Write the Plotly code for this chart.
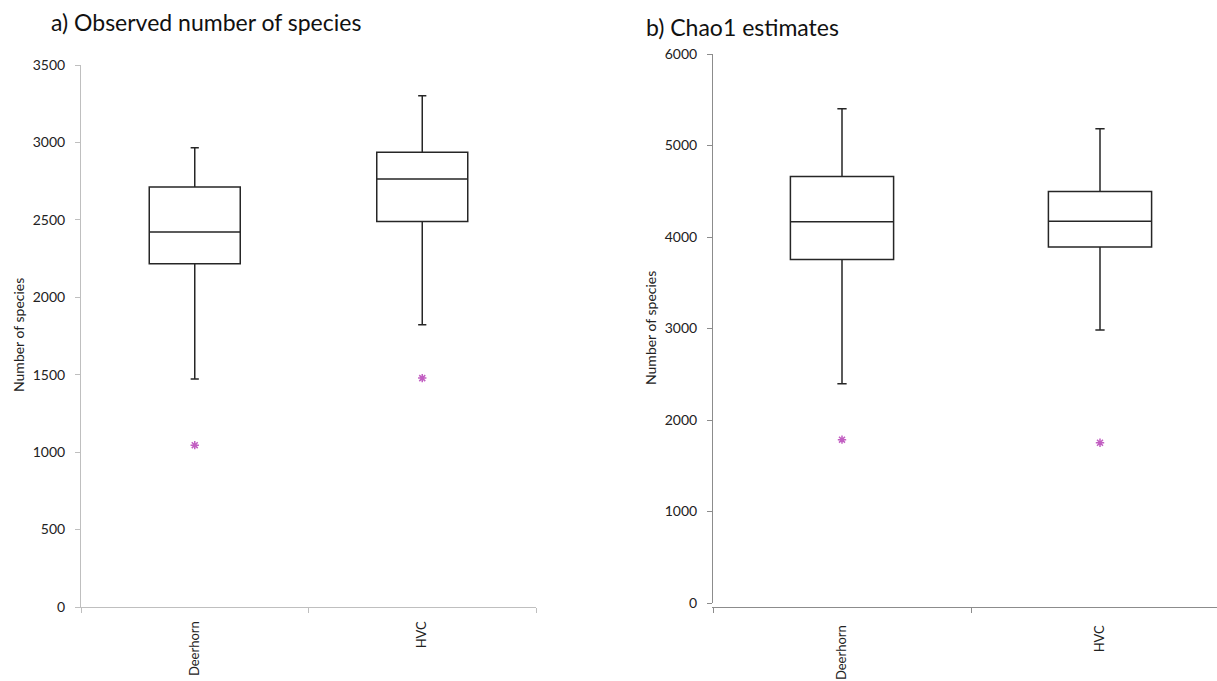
import plotly.graph_objects as go

sites = ["Deerhorn", "HVC"]

# a) Observed number of species
obs_lower = [1472, 1822]
obs_q1 = [2216, 2490]
obs_median = [2421, 2764]
obs_q3 = [2712, 2936]
obs_upper = [2966, 3302]
obs_outlier = [1045, 1478]

# b) Chao1 estimates
chao_lower = [2397, 2984]
chao_q1 = [3755, 3891]
chao_median = [4167, 4171]
chao_q3 = [4662, 4498]
chao_upper = [5402, 5184]
chao_outlier = [1785, 1752]

W, H = 1217, 681
FONT = "Lato"
BOX_LINE = "#262626"
OUT_COL = "#c25fc2"

pos = list(range(len(sites)))

fig = go.Figure()

def add_panel(xa, ya, lower, q1, med, q3, upper, outl):
    fig.add_trace(go.Box(
        x=pos, q1=q1, median=med, q3=q3, lowerfence=lower, upperfence=upper,
        xaxis=xa, yaxis=ya, width=0.4, whiskerwidth=0.09,
        fillcolor="white", line=dict(color=BOX_LINE, width=1.5),
        boxpoints=False, showlegend=False, hoverinfo="skip"))
    fig.add_trace(go.Scatter(
        x=pos, y=outl, xaxis=xa, yaxis=ya, mode="markers",
        marker=dict(symbol="asterisk", size=7, color=OUT_COL,
                    line=dict(color=OUT_COL, width=1.5)),
        showlegend=False, hoverinfo="skip"))

add_panel("x", "y", obs_lower, obs_q1, obs_median, obs_q3, obs_upper, obs_outlier)
add_panel("x2", "y2", chao_lower, chao_q1, chao_median, chao_q3, chao_upper, chao_outlier)

def px_x(v):
    return v / W

def px_y(v):
    return 1 - v / H

tickfont = dict(family=FONT, size=14, color="#222222")
xtickfont = dict(family=FONT, size=13, color="#222222")

def xaxis(domain, rng, lc, standoff):
    return dict(domain=domain, range=rng, showgrid=False, zeroline=False,
                showline=True, linecolor=lc, linewidth=1, automargin=False,
                tickmode="array", tickvals=pos, ticktext=sites, tickangle=-90,
                ticks="", tickfont=xtickfont, ticklabelstandoff=standoff,
                minor=dict(tickmode="array", tickvals=[-0.5, 0.5, 1.5],
                           ticks="outside", ticklen=5, tickcolor=lc, tickwidth=1),
                fixedrange=True)

def yaxis(domain, rng, dtick, lc, anchor):
    return dict(domain=domain, range=rng, dtick=dtick, tick0=0, showgrid=False,
                zeroline=False, showline=True, linecolor=lc, linewidth=1,
                automargin=False,
                ticks="outside", ticklen=5, tickcolor=lc, tickfont=tickfont,
                ticklabelstandoff=7, anchor=anchor, fixedrange=True)

# right panel extends beyond figure edge in reference
right_l, right_r_full = 713, 1229
cat_w = (right_r_full - right_l) / 2
right_max = -0.5 + (W - right_l) / cat_w

fig.update_layout(
    width=W, height=H,
    margin=dict(l=0, r=0, t=0, b=0, autoexpand=False),
    paper_bgcolor="white", plot_bgcolor="white",
    xaxis=xaxis([px_x(81), px_x(536)], [-0.5, 1.5], "#bfbfbf", 8),
    yaxis=yaxis([px_y(607), px_y(65)], [0, 3500], 500, "#bfbfbf", "x"),
    xaxis2=xaxis([px_x(713), 1.0], [-0.5, right_max], "#8c8c8c", 12),
    yaxis2=yaxis([px_y(603), px_y(54)], [0, 6000], 1000, "#8c8c8c", "x2"),
    annotations=[
        dict(text="a) Observed number of species", x=px_x(49), y=px_y(22),
             xref="paper", yref="paper", xanchor="left", yanchor="middle",
             showarrow=False, font=dict(family=FONT, size=23, color="#111111")),
        dict(text="b) Chao1 estimates", x=px_x(644), y=px_y(27),
             xref="paper", yref="paper", xanchor="left", yanchor="middle",
             showarrow=False, font=dict(family=FONT, size=23, color="#111111")),
        dict(text="Number of species", x=px_x(18), y=px_y(335), textangle=-90,
             xref="paper", yref="paper", xanchor="center", yanchor="middle",
             showarrow=False, font=dict(family=FONT, size=14, color="#222222")),
        dict(text="Number of species", x=px_x(650), y=px_y(328), textangle=-90,
             xref="paper", yref="paper", xanchor="center", yanchor="middle",
             showarrow=False, font=dict(family=FONT, size=14, color="#222222")),
    ],
)

fig.write_html("out.html",
               config={"displayModeBar": False},
               post_script="document.body.style.margin='0';document.body.style.padding='0';")
